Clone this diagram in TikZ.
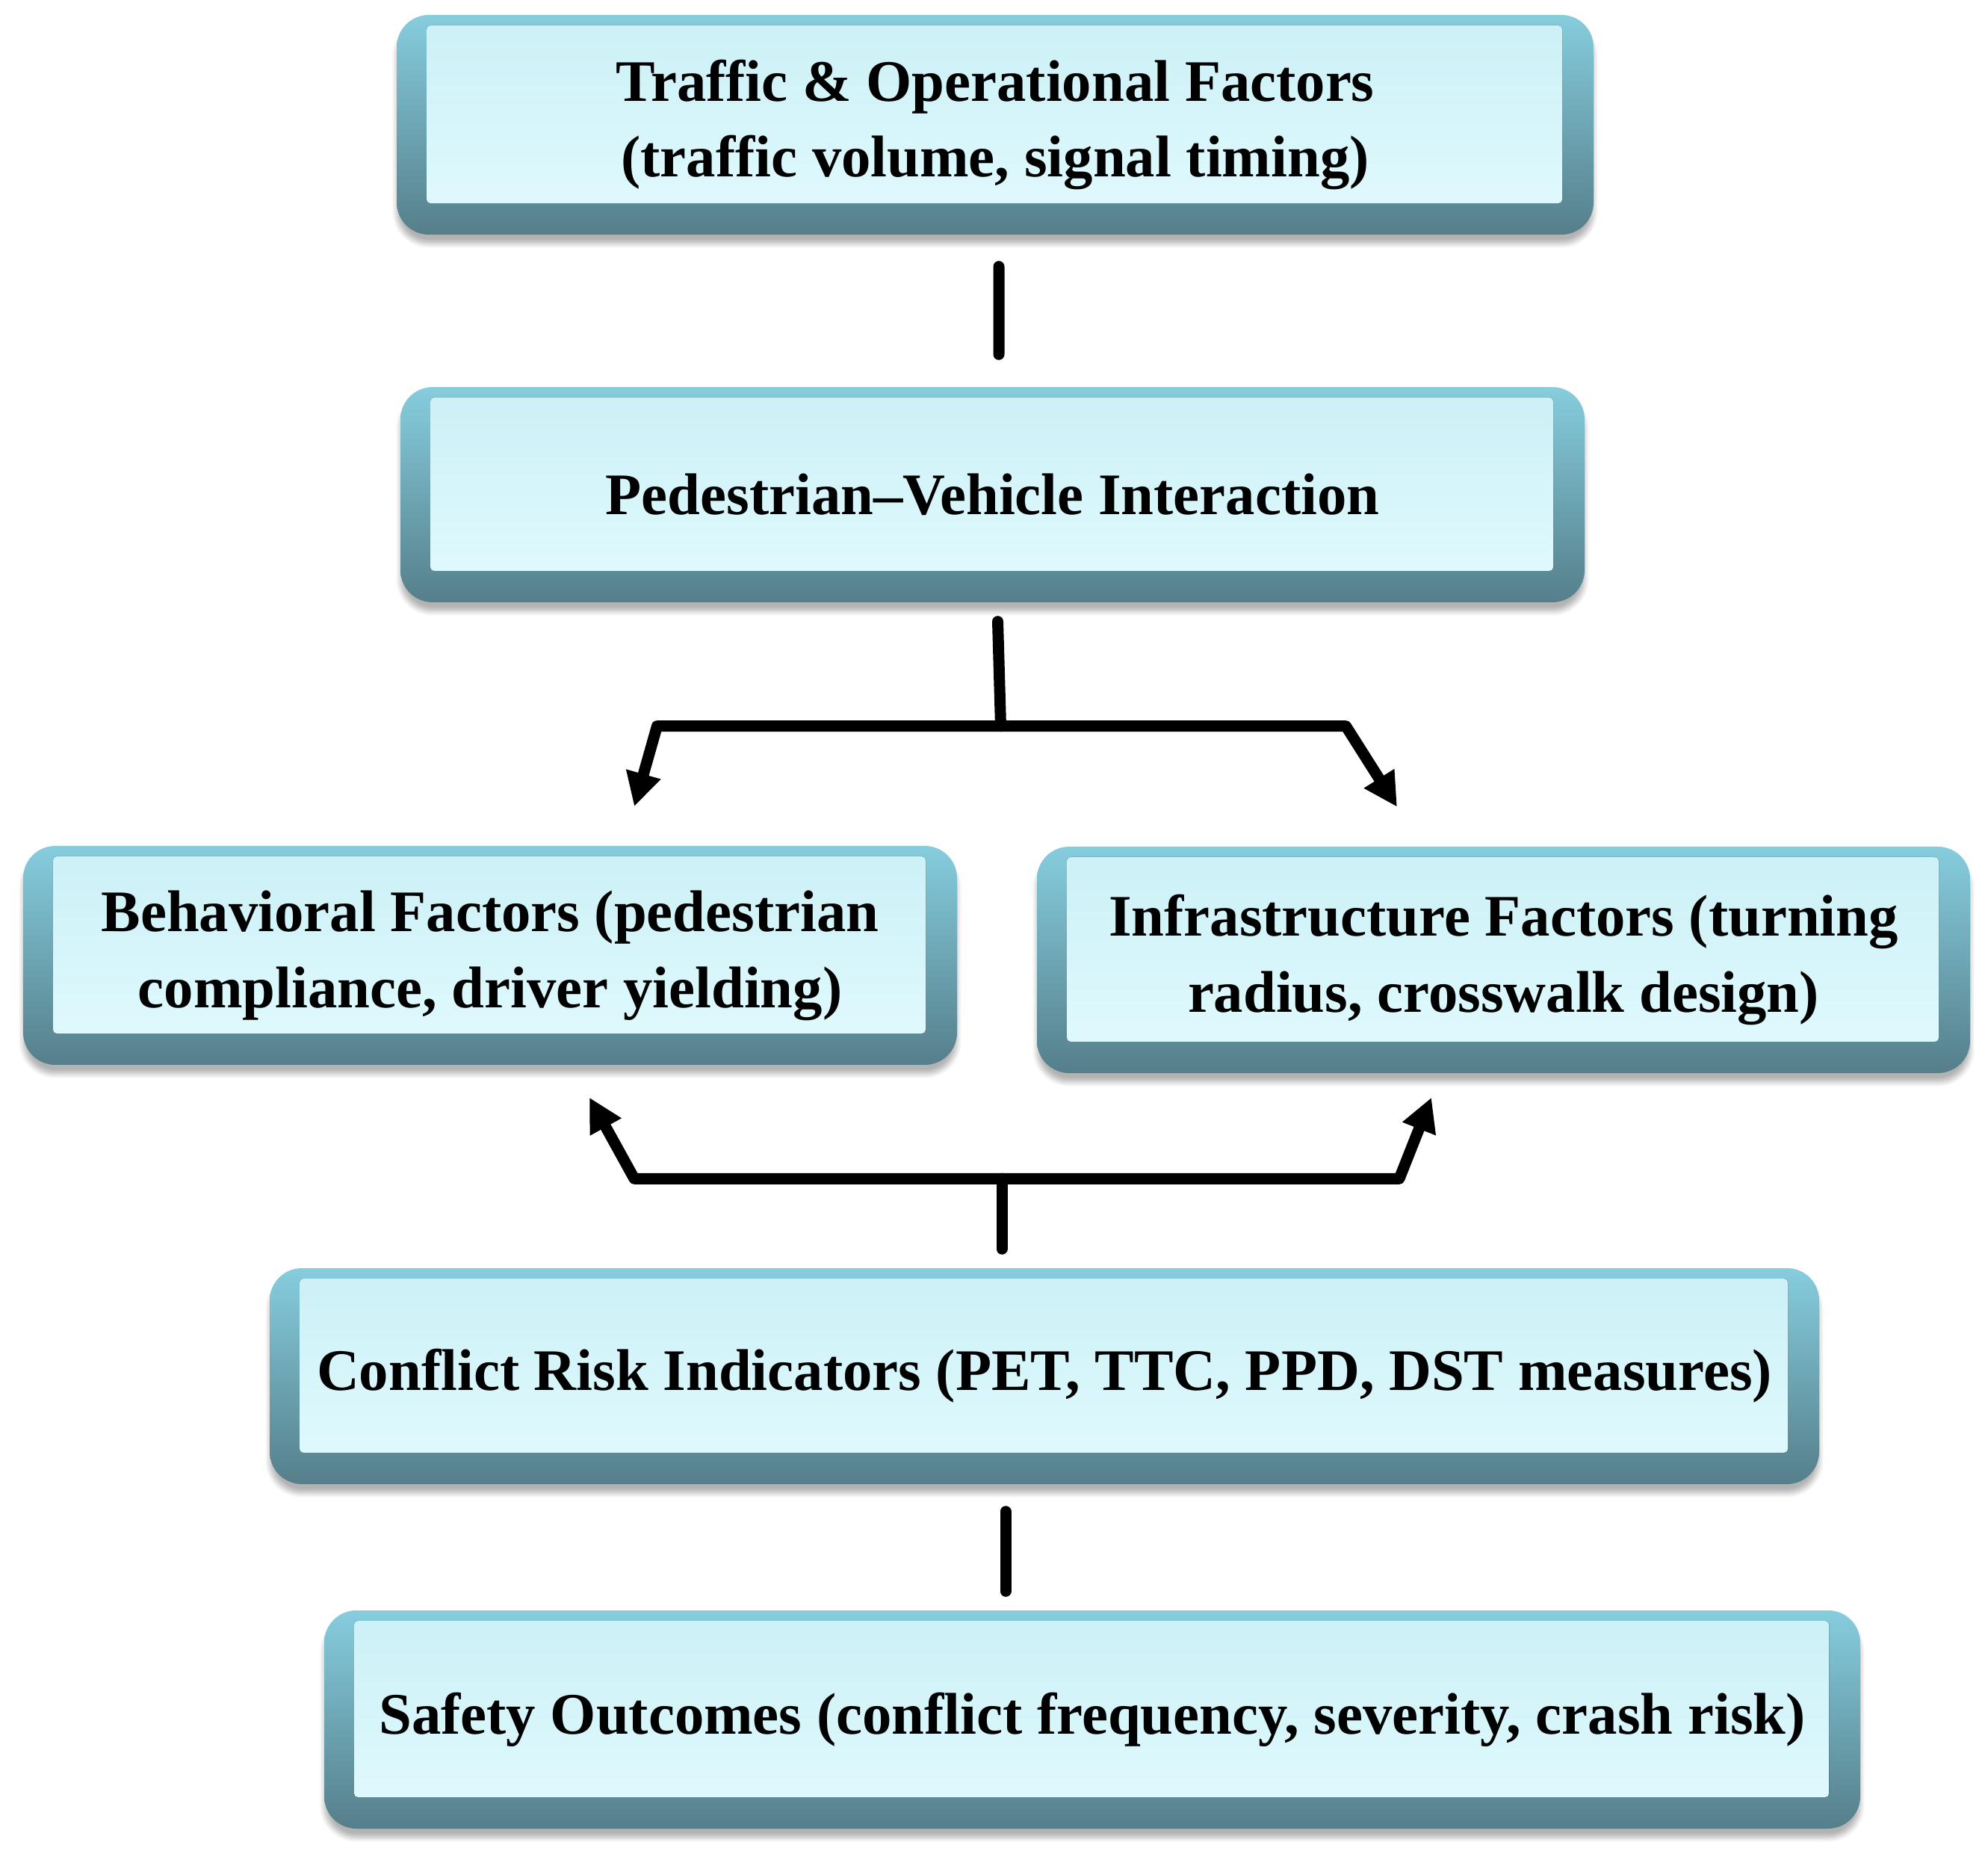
\documentclass[tikz,border=0pt]{standalone}
\usepackage{fontspec}
\setmainfont{Liberation Serif}
\usetikzlibrary{arrows.meta,calc,shadows.blur}
\definecolor{edgetop}{HTML}{86CDDE}
\definecolor{edgebot}{HTML}{557F8A}
\definecolor{facetop}{HTML}{CBF0F6}
\definecolor{facebot}{HTML}{E2FBFE}
\begin{document}
\begin{tikzpicture}[
    every node/.style={font=\fontsize{22.4}{29}\selectfont\bfseries},
    panel/.style={rectangle, rounded corners=0.43cm, top color=edgetop, bottom color=edgebot, align=center,
      blur shadow={shadow xshift=0cm, shadow yshift=-0.12cm, shadow blur steps=8, shadow opacity=30},
      path picture={\fill[rounded corners=0.05cm, top color=facetop, bottom color=facebot]
        ([xshift=0.40cm,yshift=-0.14cm]path picture bounding box.north west) rectangle
        ([xshift=-0.42cm,yshift=0.42cm]path picture bounding box.south east);}},
    link/.style={line width=0.15cm, line cap=round, line join=round},
    flow/.style={link, -{Triangle[length=0.45cm,width=0.45cm]}}
  ]
    \useasboundingbox (0,0) rectangle (26.61,24.84);

    % Traffic box
    \node[panel, minimum width=16.02cm, minimum height=2.94cm] (traffic) at (13.32,23.17)
        {Traffic \& Operational Factors\\(traffic volume, signal timing)};

    % Interaction box
    \node[panel, minimum width=15.85cm, minimum height=2.88cm] (pvi) at (13.285,18.22)
        {Pedestrian--Vehicle Interaction};

    % Factor boxes
    \node[panel, minimum width=12.50cm, minimum height=2.93cm] (behav) at (6.56,12.055)
        {Behavioral Factors (pedestrian\\compliance, driver yielding)};
    \node[panel, minimum width=12.49cm, minimum height=3.03cm] (infra) at (20.125,11.995)
        {Infrastructure Factors (turning\\radius, crosswalk design)};

    % Indicators box
    \node[panel, minimum width=20.74cm, minimum height=2.89cm] (conflict) at (13.98,6.425)
        {Conflict Risk Indicators (PET, TTC, PPD, DST measures)};

    % Outcomes box
    \node[panel, minimum width=20.56cm, minimum height=2.92cm] (safety) at (14.62,1.83)
        {Safety Outcomes (conflict frequency, severity, crash risk)};

    % Links
    \draw[link] ([shift={(0.05,-0.42)}]traffic.south) -- ([shift={(0.085,0.43)}]pvi.north);

    \coordinate (fork) at ($(pvi.south)+(0.11,-1.65)$);
    \draw[link] ([shift={(0.07,-0.25)}]pvi.south) -- (fork);
    \draw[flow] (fork) -- ++(-4.60,0) -- ($(behav.north)+(1.93,0.52)$);
    \draw[flow] (fork) -- ++(4.62,0) -- ($(infra.north)+(-1.425,0.525)$);

    \coordinate (merge) at ($(conflict.north)+(-0.57,1.19)$);
    \draw[link] ([shift={(-0.57,0.25)}]conflict.north) -- (merge);
    \draw[flow] (merge) -- ++(-4.92,0) -- ($(behav.south)+(1.33,-0.43)$);
    \draw[flow] (merge) -- ++(5.32,0) -- ($(infra.south)+(-0.965,-0.32)$);

    \draw[link] ([shift={(-0.52,-0.36)}]conflict.south) -- ([shift={(-1.16,0.25)}]safety.north);
\end{tikzpicture}
\end{document}
